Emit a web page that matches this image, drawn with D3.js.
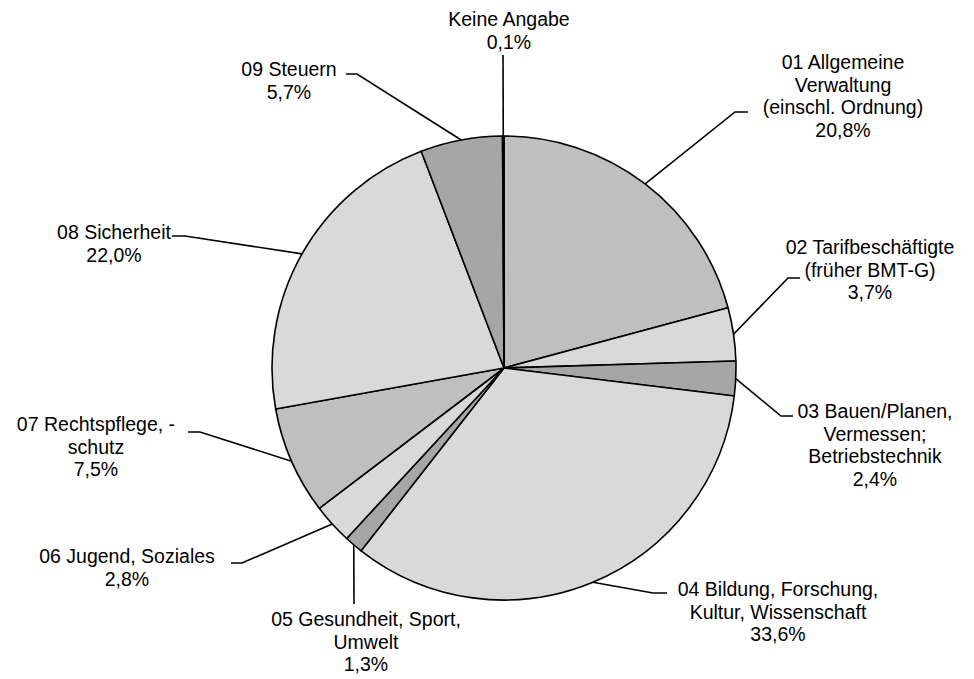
<!DOCTYPE html>
<html>
<head>
<meta charset="utf-8">
<script src="https://cdn.jsdelivr.net/npm/d3@7"></script>
<style>
  body { margin: 0; background: #fff; }
  text { font-family: "Liberation Sans", Arial, sans-serif; font-size: 19.5px; fill: #000; }
</style>
</head>
<body>
<div id="chart"></div>
<script>
// Anteile nach Aufgabenbereich (Prozent)
var categories = [
  "01 Allgemeine Verwaltung (einschl. Ordnung)",
  "02 Tarifbeschäftigte (früher BMT-G)",
  "03 Bauen/Planen, Vermessen; Betriebstechnik",
  "04 Bildung, Forschung, Kultur, Wissenschaft",
  "05 Gesundheit, Sport, Umwelt",
  "06 Jugend, Soziales",
  "07 Rechtspflege, -schutz",
  "08 Sicherheit",
  "09 Steuern",
  "Keine Angabe"
];
var values = [20.8, 3.7, 2.4, 33.6, 1.3, 2.8, 7.5, 22.0, 5.7, 0.1];
var valueLabels = ["20,8%", "3,7%", "2,4%", "33,6%", "1,3%", "2,8%", "7,5%", "22,0%", "5,7%", "0,1%"];
// label text lines, as wrapped in the chart
var labelLines = [
  ["01 Allgemeine", "Verwaltung", "(einschl. Ordnung)"],
  ["02 Tarifbeschäftigte", "(früher BMT-G)"],
  ["03 Bauen/Planen,", "Vermessen;", "Betriebstechnik"],
  ["04 Bildung, Forschung,", "Kultur, Wissenschaft"],
  ["05 Gesundheit, Sport,", "Umwelt"],
  ["06 Jugend, Soziales"],
  ["07 Rechtspflege, -", "schutz"],
  ["08 Sicherheit"],
  ["09 Steuern"],
  ["Keine Angabe"]
];
var fills = ["#bfbfbf", "#d9d9d9", "#a6a6a6", "#d9d9d9", "#a6a6a6",
             "#d9d9d9", "#bfbfbf", "#d9d9d9", "#a6a6a6", "#d9d9d9"];

// label layout: text centre x, first baseline y, leader elbow and end
var labelLayout = [
  { x: 843, y: 69,  elbow: [735, 112], end: [748, 112] },
  { x: 870, y: 254, elbow: [788, 278], end: [800, 278] },
  { x: 875, y: 418, elbow: [781, 416], end: [793, 416] },
  { x: 778, y: 596, elbow: [653, 593], end: [667, 593] },
  { x: 366, y: 626, elbow: null,       end: [354, 604] },
  { x: 127, y: 563, elbow: [242, 563], end: [231, 563] },
  { x: 96,  y: 431, elbow: [200, 432], end: [188, 432] },
  { x: 114, y: 239, elbow: [185, 236], end: [172, 236] },
  { x: 289, y: 76,  elbow: [357, 74],  end: [346, 74] },
  { x: 509, y: 26,  elbow: null,       end: [503, 55] }
];

var width = 974, height = 679;
var cx = 504, cy = 368, radius = 232;
var lineH = 22.5;

var svg = d3.select("#chart").append("svg")
    .attr("width", width)
    .attr("height", height);

var pie = d3.pie().sort(null).value(function(d) { return d; });
var arcs = pie(values);

var arc = d3.arc().innerRadius(0).outerRadius(radius);
var edge = d3.arc().innerRadius(radius).outerRadius(radius);

var g = svg.append("g").attr("transform", "translate(" + cx + "," + cy + ")");

g.selectAll("path.slice")
    .data(arcs)
    .enter().append("path")
    .attr("class", "slice")
    .attr("d", arc)
    .attr("fill", function(d, i) { return fills[i]; })
    .attr("stroke", "#000")
    .attr("stroke-width", 1.6)
    .attr("stroke-linejoin", "round");

// leader lines
svg.selectAll("polyline.leader")
    .data(arcs)
    .enter().append("polyline")
    .attr("class", "leader")
    .attr("fill", "none")
    .attr("stroke", "#000")
    .attr("stroke-width", 1.6)
    .attr("points", function(d, i) {
      var c = edge.centroid(d);
      var p = [[cx + c[0], cy + c[1]]];
      var L = labelLayout[i];
      if (L.elbow) p.push(L.elbow);
      p.push(L.end);
      return p.map(function(q) { return q.join(","); }).join(" ");
    });

// labels
var labels = svg.selectAll("text.lbl")
    .data(arcs)
    .enter().append("text")
    .attr("class", "lbl")
    .attr("text-anchor", "middle");

labels.each(function(d, i) {
  var L = labelLayout[i];
  var lines = labelLines[i].concat([valueLabels[i]]);
  var t = d3.select(this);
  lines.forEach(function(s, k) {
    t.append("tspan")
      .attr("x", L.x)
      .attr("y", L.y + k * lineH)
      .text(s);
  });
});
</script>
</body>
</html>
